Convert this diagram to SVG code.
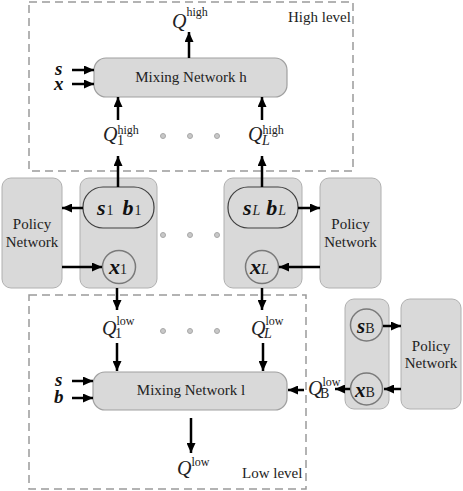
<svg xmlns="http://www.w3.org/2000/svg" width="463" height="491" viewBox="0 0 463 491">
<defs>
<marker id="ah" markerUnits="userSpaceOnUse" markerWidth="10" markerHeight="9" refX="10" refY="4.5" orient="auto">
<path d="M0,0 L10,4.5 L0,9 z" fill="#000"/>
</marker>
<style>
.frame{fill:none;stroke:#9a9a9a;stroke-width:1.5;stroke-dasharray:8,5}
.box{fill:#d9d9d9;stroke:#b0b0b0;stroke-width:1}
.mix{fill:#d9d9d9;stroke:#a0a0a0;stroke-width:1.2}
.pill{fill:#d9d9d9;stroke:#404040;stroke-width:1.2}
.circ{fill:#d9d9d9;stroke:#7a7a7a;stroke-width:1.5}
.dot{fill:#c8c8c8;stroke:#a8a8a8;stroke-width:1}
.conn line{stroke:#000;stroke-width:2.5;marker-end:url(#ah)}
.t{font-family:"Liberation Serif","Times New Roman",serif;fill:#222;font-size:15px}
.q{font-family:"Liberation Serif","Times New Roman",serif;fill:#222;font-style:italic;font-size:20px}
.sup{font-family:"Liberation Serif","Times New Roman",serif;fill:#222;font-style:normal;font-size:12px}
.sub{font-family:"Liberation Serif","Times New Roman",serif;fill:#222;font-style:normal;font-size:14px}
.subi{font-family:"Liberation Serif","Times New Roman",serif;fill:#222;font-style:italic;font-size:14px}
.v{font-family:"Liberation Serif","Times New Roman",serif;fill:#111;font-style:italic;font-weight:bold;font-size:22px}
.vs{font-family:"Liberation Serif","Times New Roman",serif;fill:#111;font-style:italic;font-weight:bold;font-size:21px}
.in{font-family:"Liberation Serif","Times New Roman",serif;fill:#111;font-style:italic;font-weight:bold;font-size:19px}
</style>
</defs>

<g id="high-level">
<rect class="frame" x="29" y="2" width="324" height="169"/>
<text class="t" x="288" y="22">High level</text>
</g>
<g id="low-level">
<rect class="frame" x="29" y="295" width="277" height="194"/>
<text class="t" x="242" y="478">Low level</text>
</g>

<g id="mixing-h">
<rect class="mix" x="94" y="58" width="193" height="39" rx="12"/>
<text class="t" x="191" y="82" text-anchor="middle">Mixing Network h</text>
</g>
<g id="mixing-l">
<rect class="mix" x="93" y="372" width="194" height="38" rx="12"/>
<text class="t" x="191" y="395" text-anchor="middle">Mixing Network l</text>
</g>

<g id="agent-1">
<rect class="box" x="80" y="178" width="77" height="110" rx="9"/>
<rect class="pill" x="83" y="187" width="71" height="41" rx="20"/>
<text x="97" y="215"><tspan class="v">s</tspan><tspan class="sub" dx="1">1</tspan><tspan class="v" dx="9">b</tspan><tspan class="sub" dx="1">1</tspan></text>
<circle class="circ" cx="119" cy="267" r="16.5"/>
<text x="109" y="274"><tspan class="v">x</tspan><tspan class="sub">1</tspan></text>
</g>
<g id="agent-L">
<rect class="box" x="224" y="178" width="78" height="110" rx="9"/>
<rect class="pill" x="228" y="187" width="70" height="41" rx="20"/>
<text x="243" y="215"><tspan class="v">s</tspan><tspan class="subi" dx="1">L</tspan><tspan class="v" dx="6">b</tspan><tspan class="subi" dx="1">L</tspan></text>
<circle class="circ" cx="262" cy="267" r="16.5"/>
<text x="250" y="274"><tspan class="v">x</tspan><tspan class="subi">L</tspan></text>
</g>
<g id="agent-B">
<rect class="box" x="345" y="299" width="44" height="110" rx="9"/>
<circle class="circ" cx="366.5" cy="325" r="16"/>
<text x="357" y="333"><tspan class="vs">s</tspan><tspan class="sub">B</tspan></text>
<circle class="circ" cx="366.5" cy="389" r="16"/>
<text x="355" y="397"><tspan class="vs">x</tspan><tspan class="sub">B</tspan></text>
</g>

<g id="policy-1">
<rect class="box" x="2" y="178" width="60" height="110" rx="9"/>
<text class="t" x="32" y="229" text-anchor="middle">Policy</text>
<text class="t" x="32" y="247" text-anchor="middle">Network</text>
</g>
<g id="policy-L">
<rect class="box" x="320" y="178" width="61" height="110" rx="9"/>
<text class="t" x="350.5" y="229" text-anchor="middle">Policy</text>
<text class="t" x="350.5" y="247" text-anchor="middle">Network</text>
</g>
<g id="policy-B">
<rect class="box" x="401" y="299" width="60" height="110" rx="9"/>
<text class="t" x="431" y="351" text-anchor="middle">Policy</text>
<text class="t" x="431" y="368" text-anchor="middle">Network</text>
</g>

<g id="labels">
<text x="172" y="28"><tspan class="q" font-size="22">Q</tspan><tspan class="sup" dy="-12">high</tspan></text>
<text x="103" y="141"><tspan class="q">Q</tspan><tspan class="sup" dy="-7">high</tspan><tspan class="sub" font-size="13" x="117" dy="11">1</tspan></text>
<text x="248" y="141"><tspan class="q">Q</tspan><tspan class="sup" dy="-7">high</tspan><tspan class="subi" font-size="13" x="262" dy="11">L</tspan></text>
<text x="102" y="335"><tspan class="q">Q</tspan><tspan class="sup" dy="-10">low</tspan><tspan class="sub" font-size="13" x="115" dy="13">1</tspan></text>
<text x="251" y="335"><tspan class="q">Q</tspan><tspan class="sup" dy="-10">low</tspan><tspan class="subi" font-size="13" x="264" dy="13">L</tspan></text>
<text x="177" y="475"><tspan class="q" font-size="22">Q</tspan><tspan class="sup" dy="-9">low</tspan></text>
<text x="308" y="395"><tspan class="q" font-size="18">Q</tspan><tspan class="sup" dy="-9">low</tspan><tspan class="sub" font-size="12" x="320" dy="12">B</tspan></text>
<text class="in" x="55" y="75">s</text>
<text class="in" x="54" y="90">x</text>
<text class="in" x="55" y="386">s</text>
<text class="in" x="54" y="403">b</text>
</g>

<g id="ellipses">
<circle class="dot" cx="163" cy="136" r="2.5"/>
<circle class="dot" cx="190" cy="136" r="2.5"/>
<circle class="dot" cx="217" cy="136" r="2.5"/>
<circle class="dot" cx="163" cy="235" r="2.5"/>
<circle class="dot" cx="190" cy="235" r="2.5"/>
<circle class="dot" cx="217" cy="235" r="2.5"/>
<circle class="dot" cx="163" cy="331" r="2.5"/>
<circle class="dot" cx="190" cy="331" r="2.5"/>
<circle class="dot" cx="217" cy="331" r="2.5"/>
</g>

<g id="connectors" class="conn">
<line x1="189" y1="58" x2="189" y2="32"/>
<line x1="72" y1="70" x2="94" y2="70"/>
<line x1="72" y1="84" x2="94" y2="84"/>
<line x1="118" y1="120" x2="118" y2="97"/>
<line x1="262" y1="120" x2="262" y2="97"/>
<line x1="118" y1="187" x2="118" y2="156"/>
<line x1="262" y1="187" x2="262" y2="156"/>
<line x1="83" y1="208" x2="62" y2="208"/>
<line x1="62" y1="267" x2="102" y2="267"/>
<line x1="298" y1="208" x2="320" y2="208"/>
<line x1="320" y1="267" x2="279" y2="267"/>
<line x1="117" y1="288" x2="117" y2="310"/>
<line x1="262" y1="288" x2="262" y2="310"/>
<line x1="117" y1="343" x2="117" y2="371"/>
<line x1="263" y1="343" x2="263" y2="371"/>
<line x1="72" y1="381" x2="93" y2="381"/>
<line x1="72" y1="398" x2="93" y2="398"/>
<line x1="191" y1="418" x2="191" y2="453"/>
<line x1="383" y1="326" x2="401" y2="326"/>
<line x1="401" y1="389" x2="384" y2="389"/>
<line x1="350" y1="389" x2="335" y2="389"/>
<line x1="304" y1="390" x2="288" y2="390"/>
</g>
</svg>
